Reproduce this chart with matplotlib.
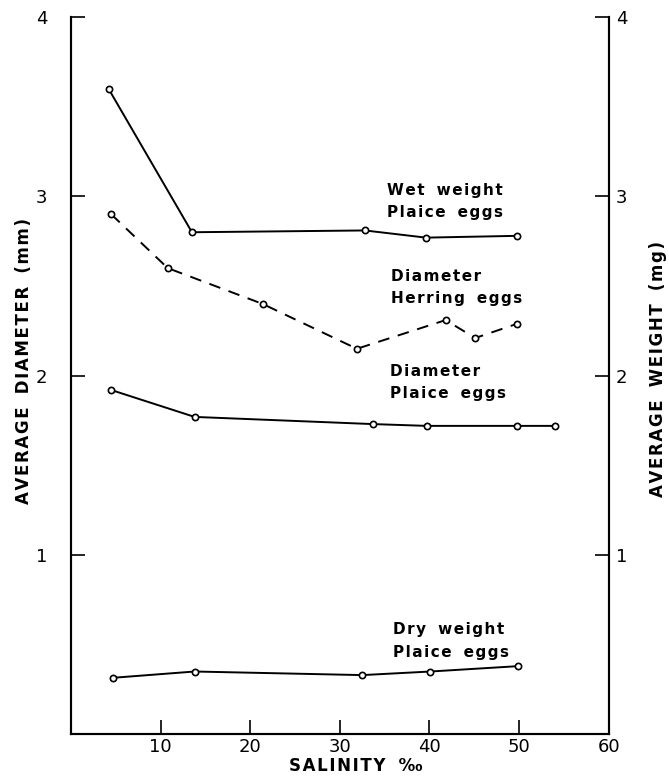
from matplotlib import pyplot as plt
import numpy as np

## values
wet_sal = [4.2, 13.5, 32.8, 39.6, 49.8]
wet_mg = [3.60, 2.80, 2.81, 2.77, 2.78]

herring_sal = [4.5, 10.8, 21.4, 31.9, 41.8, 45.1, 49.8]
herring_mm = [2.90, 2.60, 2.40, 2.15, 2.31, 2.21, 2.29]

plaice_sal = [4.5, 13.8, 33.7, 39.7, 49.8, 54.0]
plaice_mm = [1.92, 1.77, 1.73, 1.72, 1.72, 1.72]

dry_sal = [4.7, 13.8, 32.5, 40.1, 49.9]
dry_mg = [0.315, 0.35, 0.33, 0.35, 0.38]

x_ticks = [10, 20, 30, 40, 50, 60]
y_ticks = [1, 2, 3, 4]

labels = [
    ("Wet weight\nPlaice eggs", 35.3, 2.97),
    ("Diameter\nHerring eggs", 35.7, 2.49),
    ("Diameter\nPlaice eggs", 35.6, 1.96),
    ("Dry weight\nPlaice eggs", 35.9, 0.52),
]


def spaced(s, gap="\u200a"):
    ## fake letter spacing with thin spaces
    return "\n".join(gap.join(list(line)).replace(" " + gap, "  ") for line in s.split("\n"))


fig = plt.figure(figsize=(6.69, 7.77), dpi=100)
ax = fig.add_axes([0.106, 0.055, 0.804, 0.923])
ax2 = ax.twinx()

line_kw = dict(color="black", lw=1.4, marker="o", markersize=4.5,
               markerfacecolor="white", markeredgewidth=1.2)

ax2.plot(wet_sal, wet_mg, **line_kw)
ax.plot(herring_sal, herring_mm, dashes=(6, 4.5), **line_kw)
ax.plot(plaice_sal, plaice_mm, **line_kw)
ax2.plot(dry_sal, dry_mg, **line_kw)

for text, x, y in labels:
    ax.text(x, y, spaced(text), fontsize=11, fontweight="bold", ha="left",
            va="center", linespacing=1.6, color="black")

for a in (ax, ax2):
    a.set_xlim(0, 60)
    a.set_ylim(0, 4)
    a.set_yticks(y_ticks)
    a.set_yticklabels([str(t) for t in y_ticks], fontsize=13)
    a.spines["top"].set_visible(False)
    for s in a.spines.values():
        s.set_linewidth(1.5)
    a.tick_params(direction="in", length=10, width=1.2)

ax.tick_params(axis="y", pad=17)
ax2.tick_params(axis="y", pad=5)
ax.set_xticks(x_ticks)
ax.set_xticklabels([str(t) for t in x_ticks], fontsize=13)
ax.tick_params(axis="x", pad=3)

ax.set_xlabel(spaced("SALINITY ‰"), fontsize=12, fontweight="bold")
ax.xaxis.set_label_coords(0.53, -0.032)
ax.set_ylabel(spaced("AVERAGE DIAMETER (mm)"), fontsize=12, fontweight="bold")
ax.yaxis.set_label_coords(-0.07, 0.52)
ax2.set_ylabel(spaced("AVERAGE WEIGHT (mg)"), fontsize=12, fontweight="bold", rotation=90)
ax2.yaxis.set_label_coords(1.075, 0.51)

fig.savefig("out.png", dpi=100)
